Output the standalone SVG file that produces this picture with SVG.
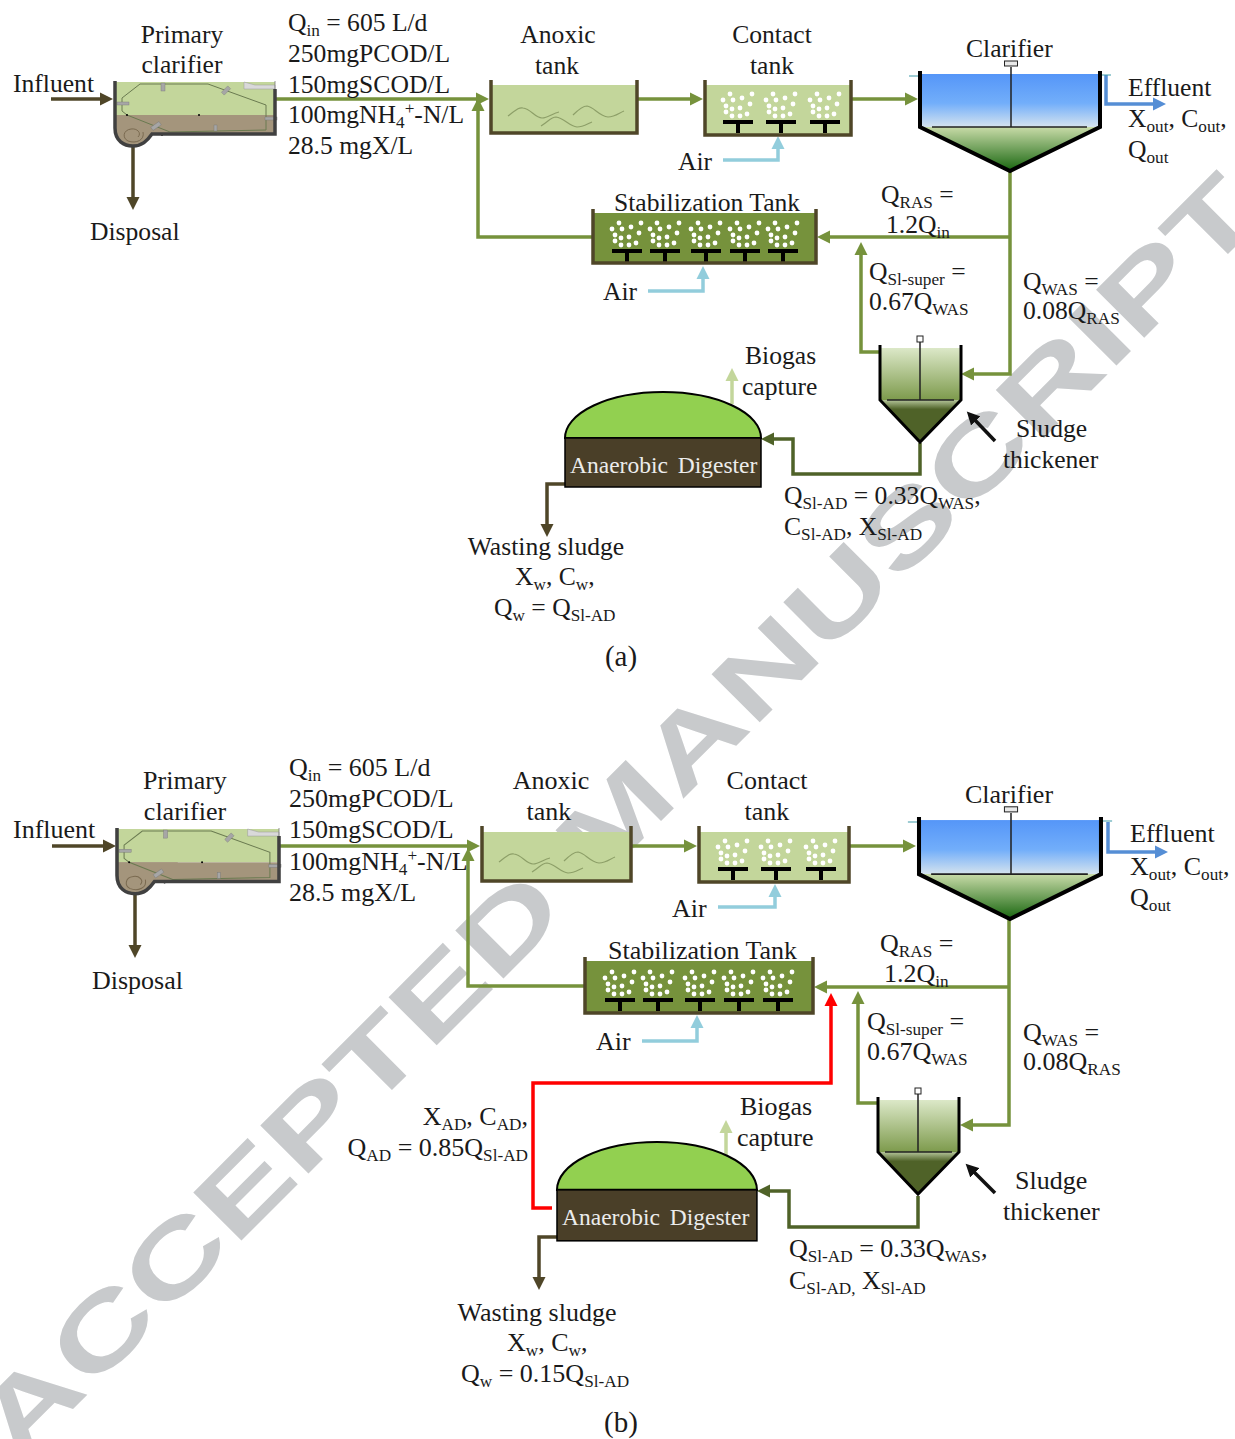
<svg xmlns="http://www.w3.org/2000/svg" xmlns:xlink="http://www.w3.org/1999/xlink" width="1235" height="1439" viewBox="0 0 1235 1439">
<style>
text{font-family:"Liberation Serif","Times New Roman",serif;font-size:25.6px;fill:#1a1a1a}
.s{font-size:17.2px}
.m{text-anchor:middle}
.e{text-anchor:end}
.pb text{font-size:26px}
text.cap{font-size:29px}
text.wm{font-family:"Liberation Sans",Arial,sans-serif;font-weight:700;font-size:99px;fill:#c8cacc}
text.ad{font-size:23.5px;word-spacing:4px;fill:#ececec}
.c{fill:none;stroke-width:3.5;stroke-linejoin:miter}
.g{stroke:#76923c;marker-end:url(#ag)}
.br{stroke:#4f4628;marker-end:url(#ab)}
.dk{stroke:#4f6228;marker-end:url(#ad)}
.bl{stroke:#558ed5;marker-end:url(#ae)}
.lb{stroke:#92cddc;marker-end:url(#al)}
.lg{stroke:#c3d69b;marker-end:url(#ac)}
.rd{stroke:#ff0000;marker-end:url(#ar)}
.bk{stroke:#111;marker-end:url(#ak)}
.wall{fill:none;stroke:#4f4628;stroke-width:3.5}
.sc{fill:none;stroke:#6a7a50;stroke-width:1}
.pd{fill:#a6a6a6;stroke:#777;stroke-width:.4}
.wg{fill:none;stroke:#8d9f68;stroke-width:1.2}
.b{fill:#fff}
.dif{fill:none;stroke:#000;stroke-width:4}
.rod{fill:none;stroke:#222;stroke-width:1.5}
</style>
<defs>
<marker id="ag" markerUnits="userSpaceOnUse" markerWidth="14" markerHeight="14" refX="4" refY="7" orient="auto"><path d="M0,.5L13,7L0,13.5z" fill="#76923c"/></marker>
<marker id="ab" markerUnits="userSpaceOnUse" markerWidth="14" markerHeight="14" refX="4" refY="7" orient="auto"><path d="M0,.5L13,7L0,13.5z" fill="#4f4628"/></marker>
<marker id="ad" markerUnits="userSpaceOnUse" markerWidth="14" markerHeight="14" refX="4" refY="7" orient="auto"><path d="M0,.5L13,7L0,13.5z" fill="#4f6228"/></marker>
<marker id="ae" markerUnits="userSpaceOnUse" markerWidth="14" markerHeight="14" refX="4" refY="7" orient="auto"><path d="M0,.5L13,7L0,13.5z" fill="#558ed5"/></marker>
<marker id="al" markerUnits="userSpaceOnUse" markerWidth="14" markerHeight="14" refX="4" refY="7" orient="auto"><path d="M0,.5L13,7L0,13.5z" fill="#92cddc"/></marker>
<marker id="ac" markerUnits="userSpaceOnUse" markerWidth="14" markerHeight="14" refX="4" refY="7" orient="auto"><path d="M0,.5L13,7L0,13.5z" fill="#c3d69b"/></marker>
<marker id="ar" markerUnits="userSpaceOnUse" markerWidth="14" markerHeight="14" refX="4" refY="7" orient="auto"><path d="M0,.5L13,7L0,13.5z" fill="#ff0000"/></marker>
<marker id="ak" markerUnits="userSpaceOnUse" markerWidth="14" markerHeight="14" refX="4" refY="7" orient="auto"><path d="M0,.5L13,7L0,13.5z" fill="#111"/></marker>
<linearGradient id="water" x1="0" y1="0" x2="0" y2="1"><stop offset="0" stop-color="#5596f8"/><stop offset=".55" stop-color="#72aefa"/><stop offset="1" stop-color="#d5e3ee"/></linearGradient>
<linearGradient id="cone" x1="0" y1="0" x2="0" y2="1"><stop offset="0" stop-color="#c8dba8"/><stop offset="1" stop-color="#18660f"/></linearGradient>
<linearGradient id="thk" x1="0" y1="0" x2="0" y2="1"><stop offset="0" stop-color="#dce8c8"/><stop offset="1" stop-color="#7d9a4c"/></linearGradient>
<linearGradient id="thc" x1="0" y1="0" x2="0" y2="1"><stop offset="0" stop-color="#b5c59a"/><stop offset=".22" stop-color="#4f6228"/><stop offset="1" stop-color="#4f6228"/></linearGradient>
<g id="bub">
<circle class="b" cx="-8" cy="-28" r="2.400"/><circle class="b" cx="4" cy="-24" r="2.400"/><circle class="b" cx="14" cy="-28" r="2.400"/><circle class="b" cx="-15" cy="-22" r="2.400"/><circle class="b" cx="-5" cy="-22" r="2.400"/><circle class="b" cx="12" cy="-18" r="2.400"/><circle class="b" cx="-12" cy="-16" r="2.400"/><circle class="b" cx="-6" cy="-13" r="2.400"/><circle class="b" cx="2" cy="-14" r="2.400"/><circle class="b" cx="9" cy="-8" r="2.400"/><circle class="b" cx="-12" cy="-10" r="2.400"/><circle class="b" cx="-6" cy="-6" r="2.400"/><circle class="b" cx="2" cy="-6" r="2.400"/>
<path class="dif" d="M-15,0H15M0,0V11"/>
</g>
<g id="pc">
<rect x="1" y="1" width="159" height="33" fill="#c3d69b"/>
<rect x="1" y="34" width="159" height="18" fill="#a4957c"/>
<path d="M0,34V47C0,60 9,65 18,65C27,65 32,60 37,53H60V34z" fill="#a4957c"/>
<path d="M129,1L140,4H160V8H129z" fill="#d9d9d9" stroke="#999" stroke-width=".5"/>
<path d="M160,0V8" stroke="#777" stroke-width=".8"/>
<path class="sc" d="M7,17L25,3H93L151,24V49L55,51L12,34L7,30z"/>
<rect class="pd" x="46" y="-1" width="4" height="8" transform="translate(0 3)"/>
<rect class="pd" x="109" y="5" width="4" height="9" transform="rotate(45 111 9.500)"/>
<rect class="pd" x="2" y="21" width="12" height="3"/>
<rect class="pd" x="150" y="36" width="12" height="3"/>
<rect class="pd" x="99" y="44" width="3" height="6"/>
<rect class="pd" x="39" y="40" width="4" height="10" transform="rotate(55 41 45)"/>
<circle cx="12" cy="34" r="1"/><circle cx="84" cy="34" r="1"/><circle cx="47" cy="54" r="1"/>
<path d="M23,56C27,52 22,47 16,48C8,49 7,57 13,60C21,63 30,59 28,51" fill="none" stroke="#7a6a50" stroke-width="1"/>
<path d="M0,0V47C0,60 9,65 18,65C27,65 32,60 37,53H160V8" fill="none" stroke="#404040" stroke-width="3.500"/>
</g>
<g id="wig">
<path class="wg" d="M17,36C25,30 28,27 32,28C40,29 44,38 51,38C57,38 62,33 68,32"/>
<path class="wg" d="M82,35C88,29 92,26 96,26C103,27 108,36 117,37C124,37 128,33 133,31"/>
<path class="wg" d="M50,46C58,41 60,37 65,37C73,38 78,46 86,47C92,47 96,44 101,42"/>
</g>
<g id="clar">
<rect x="0" y="3" width="180" height="53" fill="url(#water)"/>
<path d="M0,56H180L90,100z" fill="url(#cone)"/>
<path d="M-11,5H0M180,4H191" stroke="#3f9aa8" stroke-width="1"/>
<path class="rod" d="M91,-4V56M12,56H167"/>
<rect x="84.500" y="-10" width="13" height="5" fill="#e8e8e8" stroke="#222" stroke-width="1"/>
<path d="M0,0V56L90,100L180,56V0" fill="none" stroke="#000" stroke-width="4"/>
</g>
<g id="thick">
<rect x="0" y="3" width="81" height="52" fill="url(#thk)"/>
<path d="M0,55H81L40,97z" fill="url(#thc)"/>
<path class="rod" d="M40,-6V55M7,55H74"/>
<rect x="37" y="-9" width="6" height="6" fill="#fff" stroke="#222" stroke-width="1"/>
<path d="M0,0V55L40,97L81,55V0" fill="none" stroke="#000" stroke-width="3"/>
</g>
<g id="ad-body">
<path d="M0,46A98,46 0 0 1 196,46z" fill="#92d050" stroke="#000" stroke-width="2"/>
<rect x="0" y="46" width="196" height="49" fill="#4a3f28" stroke="#000" stroke-width="1.500"/>
</g>
</defs>

<text id="watermark" class="wm" transform="translate(17.500 1464.500) rotate(-45) scale(1.433 1)">ACCEPTED MANUSCRIPT</text>

<g id="connectors" class="c">
<path class="c br" d="M51,99H104"/><path class="c br" d="M133,146V201"/>
<path class="c g" d="M275,99H480"/><path class="c g" d="M592,237H478V107"/>
<path class="c g" d="M638,99H694"/><path class="c g" d="M852,99H909"/>
<path class="c lb" d="M723,160H778V145"/><path class="c lb" d="M648,291H703V275"/>
<path class="c g" d="M1010,237H826"/><path class="c g" d="M1010,172V374H970"/>
<path class="c g" d="M880,352H861V251"/><path class="c dk" d="M920,443V474H793V439H770"/>
<path class="c lg" d="M732,404V377"/><path class="c br" d="M565,484H547V528"/>
<path class="c bl" d="M1106,75V104H1157"/><path class="c bk" d="M995,441L973,418"/>

<path class="c br" d="M52,846H107"/><path class="c br" d="M135,894V949"/>
<path class="c g" d="M280,846H471"/><path class="c g" d="M585,986H468V857"/>
<path class="c g" d="M632,846H688"/><path class="c g" d="M850,846H907"/>
<path class="c lb" d="M718,907H775V893"/><path class="c lb" d="M642,1041H697V1024"/>
<path class="c g" d="M1009,987H823"/><path class="c g" d="M1009,919V1125H969"/>
<path class="c g" d="M878,1103H858V1000"/><path class="c rd" d="M552,1208H533V1083H831V1002"/>
<path class="c dk" d="M918,1196V1227H789V1191H766"/><path class="c lg" d="M726,1160V1129"/>
<path class="c br" d="M557,1237H539V1281"/><path class="c bl" d="M1108,822V852H1159"/>
<path class="c bk" d="M995,1193L972,1170"/>
</g>

<g id="primary-clarifier-a"><use href="#pc" transform="translate(115 81)"/>
<text class="m" x="182" y="43">Primary</text><text class="m" x="182" y="73">clarifier</text></g>
<g id="anoxic-a"><rect x="491" y="85" width="146" height="48" fill="#c3d69b"/><use href="#wig" transform="translate(491 80)"/><path class="wall" d="M491,80V133H637V80"/>
<text class="m" x="558" y="43">Anoxic</text><text class="m" x="557" y="74">tank</text></g>
<g id="contact-a"><rect x="705" y="85" width="146" height="50" fill="#c3d69b"/><use href="#bub" x="738" y="122"/><use href="#bub" x="781" y="122"/><use href="#bub" x="825" y="122"/><path class="wall" d="M705,80V135H851V80"/>
<text class="m" x="772" y="43">Contact</text><text class="m" x="772" y="74">tank</text></g>
<g id="stabilization-a"><rect x="593" y="213" width="223" height="50" fill="#76923c"/><use href="#bub" x="627" y="251"/><use href="#bub" x="665" y="251"/><use href="#bub" x="706" y="251"/><use href="#bub" x="745" y="251"/><use href="#bub" x="783" y="251"/><path class="wall" d="M593,209V263H816V209"/>
<text x="614" y="211">Stabilization Tank</text></g>
<g id="clarifier-a"><use href="#clar" transform="translate(920 71)"/><text x="966" y="57">Clarifier</text></g>
<g id="thickener-a"><use href="#thick" transform="translate(880 345)"/><text x="1016" y="437">Sludge</text><text x="1003" y="468">thickener</text></g>
<g id="digester-a"><use href="#ad-body" transform="translate(565 392)"/><text class="ad" x="570" y="473">Anaerobic Digester</text></g>

<g id="labels-a">
<text x="13" y="92">Influent</text><text x="90" y="240">Disposal</text>
<text x="288" y="31">Q<tspan class="s" dy="5">in</tspan><tspan dy="-5"> = 605 L/d</tspan></text>
<text x="288" y="62">250mgPCOD/L</text><text x="288" y="93">150mgSCOD/L</text>
<text x="288" y="123">100mgNH<tspan class="s" dy="5">4</tspan><tspan class="s" dy="-14">+</tspan><tspan dy="9">-N/L</tspan></text>
<text x="288" y="154">28.5 mgX/L</text>
<text x="678" y="170">Air</text><text x="603" y="300">Air</text>
<text x="1128" y="96">Effluent</text>
<text x="1128" y="127">X<tspan class="s" dy="5">out</tspan><tspan dy="-5">, C</tspan><tspan class="s" dy="5">out</tspan><tspan dy="-5">,</tspan></text>
<text x="1128" y="158">Q<tspan class="s" dy="5">out</tspan></text>
<text x="881" y="203">Q<tspan class="s" dy="5">RAS</tspan><tspan dy="-5"> =</tspan></text>
<text x="886" y="233">1.2Q<tspan class="s" dy="5">in</tspan></text>
<text x="869" y="280">Q<tspan class="s" dy="5">Sl-super</tspan><tspan dy="-5"> =</tspan></text>
<text x="869" y="310">0.67Q<tspan class="s" dy="5">WAS</tspan></text>
<text x="1023" y="290">Q<tspan class="s" dy="5">WAS</tspan><tspan dy="-5"> =</tspan></text>
<text x="1023" y="319">0.08Q<tspan class="s" dy="5">RAS</tspan></text>
<text x="745" y="364">Biogas</text><text x="742" y="395">capture</text>
<text x="784" y="504">Q<tspan class="s" dy="5">Sl-AD</tspan><tspan dy="-5"> = 0.33Q</tspan><tspan class="s" dy="5">WAS</tspan><tspan dy="-5">,</tspan></text>
<text x="784" y="535">C<tspan class="s" dy="5">Sl-AD</tspan><tspan dy="-5">, X</tspan><tspan class="s" dy="5">Sl-AD</tspan></text>
<text class="m" x="546" y="555">Wasting sludge</text>
<text x="515" y="585">X<tspan class="s" dy="5">w</tspan><tspan dy="-5">, C</tspan><tspan class="s" dy="5">w</tspan><tspan dy="-5">,</tspan></text>
<text x="494" y="616">Q<tspan class="s" dy="5">w</tspan><tspan dy="-5"> = Q</tspan><tspan class="s" dy="5">Sl-AD</tspan></text>
<text class="m cap" x="621" y="666">(a)</text>
</g>

<g id="primary-clarifier-b" class="pb"><use href="#pc" transform="translate(117 828) scale(1.0125 1.01)"/>
<text class="m" x="185" y="789">Primary</text><text class="m" x="185" y="820">clarifier</text></g>
<g id="anoxic-b" class="pb"><rect x="482" y="832" width="149" height="49" fill="#c3d69b"/><use href="#wig" transform="translate(482 826)"/><path class="wall" d="M482,826V881H631V826"/>
<text class="m" x="551" y="789">Anoxic</text><text class="m" x="549" y="820">tank</text></g>
<g id="contact-b" class="pb"><rect x="699" y="832" width="150" height="50" fill="#c3d69b"/><use href="#bub" x="733" y="869"/><use href="#bub" x="776" y="869"/><use href="#bub" x="821" y="869"/><path class="wall" d="M699,826V882H849V826"/>
<text class="m" x="767" y="789">Contact</text><text class="m" x="767" y="820">tank</text></g>
<g id="stabilization-b" class="pb"><rect x="585" y="961" width="228" height="52" fill="#76923c"/><use href="#bub" x="620" y="1000"/><use href="#bub" x="658" y="1000"/><use href="#bub" x="700" y="1000"/><use href="#bub" x="739" y="1000"/><use href="#bub" x="778" y="1000"/><path class="wall" d="M585,957V1013H813V957"/>
<text x="608" y="959">Stabilization Tank</text></g>
<g id="clarifier-b" class="pb"><use href="#clar" transform="translate(919 817) scale(1.011 1.02)"/><text x="965" y="803">Clarifier</text></g>
<g id="thickener-b" class="pb"><use href="#thick" transform="translate(878 1097)"/><text x="1015" y="1189">Sludge</text><text x="1003" y="1220">thickener</text></g>
<g id="digester-b"><use href="#ad-body" transform="translate(557 1142) scale(1.02 1.04)"/><text class="ad" x="562" y="1225">Anaerobic Digester</text></g>

<g id="labels-b" class="pb">
<text x="13" y="838">Influent</text><text x="92" y="989">Disposal</text>
<text x="289" y="776">Q<tspan class="s" dy="5">in</tspan><tspan dy="-5"> = 605 L/d</tspan></text>
<text x="289" y="807">250mgPCOD/L</text><text x="289" y="838">150mgSCOD/L</text>
<text x="289" y="870">100mgNH<tspan class="s" dy="5">4</tspan><tspan class="s" dy="-14">+</tspan><tspan dy="9">-N/L</tspan></text>
<text x="289" y="901">28.5 mgX/L</text>
<text x="672" y="917">Air</text><text x="596" y="1050">Air</text>
<text x="1130" y="842">Effluent</text>
<text x="1130" y="875">X<tspan class="s" dy="5">out</tspan><tspan dy="-5">, C</tspan><tspan class="s" dy="5">out</tspan><tspan dy="-5">,</tspan></text>
<text x="1130" y="906">Q<tspan class="s" dy="5">out</tspan></text>
<text x="880" y="952">Q<tspan class="s" dy="5">RAS</tspan><tspan dy="-5"> =</tspan></text>
<text x="884" y="982">1.2Q<tspan class="s" dy="5">in</tspan></text>
<text x="867" y="1030">Q<tspan class="s" dy="5">Sl-super</tspan><tspan dy="-5"> =</tspan></text>
<text x="867" y="1060">0.67Q<tspan class="s" dy="5">WAS</tspan></text>
<text x="1023" y="1041">Q<tspan class="s" dy="5">WAS</tspan><tspan dy="-5"> =</tspan></text>
<text x="1023" y="1070">0.08Q<tspan class="s" dy="5">RAS</tspan></text>
<text class="e" x="528" y="1125">X<tspan class="s" dy="5">AD</tspan><tspan dy="-5">, C</tspan><tspan class="s" dy="5">AD</tspan><tspan dy="-5">,</tspan></text>
<text class="e" x="528" y="1156">Q<tspan class="s" dy="5">AD</tspan><tspan dy="-5"> = 0.85Q</tspan><tspan class="s" dy="5">Sl-AD</tspan></text>
<text x="740" y="1115">Biogas</text><text x="737" y="1146">capture</text>
<text x="789" y="1257">Q<tspan class="s" dy="5">Sl-AD</tspan><tspan dy="-5"> = 0.33Q</tspan><tspan class="s" dy="5">WAS</tspan><tspan dy="-5">,</tspan></text>
<text x="789" y="1289">C<tspan class="s" dy="5">Sl-AD,</tspan><tspan dy="-5"> X</tspan><tspan class="s" dy="5">Sl-AD</tspan></text>
<text class="m" x="537" y="1321">Wasting sludge</text>
<text x="507" y="1351">X<tspan class="s" dy="5">w</tspan><tspan dy="-5">, C</tspan><tspan class="s" dy="5">w</tspan><tspan dy="-5">,</tspan></text>
<text x="461" y="1382">Q<tspan class="s" dy="5">w</tspan><tspan dy="-5"> = 0.15Q</tspan><tspan class="s" dy="5">Sl-AD</tspan></text>
<text class="m cap" x="621" y="1432">(b)</text>
</g>
</svg>
